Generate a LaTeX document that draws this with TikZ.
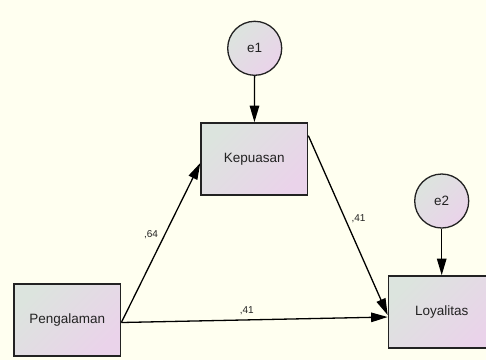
\documentclass[tikz,border=0pt]{standalone}
\usepackage{fontspec}
\setmainfont{Liberation Sans}
\usetikzlibrary{arrows.meta,calc}
\definecolor{bgc}{HTML}{FFFFF0}
\definecolor{cA}{HTML}{DCE4DE}
\definecolor{cB}{HTML}{EAD3EA}
\definecolor{edge}{HTML}{222222}
\tikzset{
  var/.style={draw=edge, line width=1.4pt, rectangle, minimum width=106.7pt, minimum height=72.3pt,
    inner sep=0pt, top color=cA, bottom color=cB, shading angle=45, font=\fontsize{13.5}{16}\selectfont, text=edge},
  err/.style={draw=edge, line width=1.3pt, circle, minimum size=54pt, inner sep=0pt,
    top color=cA, bottom color=cB, shading angle=45, font=\fontsize{13.5}{16}\selectfont, text=edge},
  path/.style={line width=1.3pt, draw=black, -{Triangle[length=16.5pt,width=9.5pt]}},
  coef/.style={font=\fontsize{10}{12}\selectfont, text=edge, inner sep=0pt}
}
\begin{document}
\begin{tikzpicture}[x=1pt,y=-1pt]
\useasboundingbox (0,0) rectangle (486,360);
\clip (0,0) rectangle (486,360);
\fill[bgc] (0,0) rectangle (486,360);
\node[err] (e1) at (254.7,48.3) {e1};
\node[err] (e2) at (441.7,201) {e2};
\node[var] (K) at (254.3,159) {Kepuasan};
\node[var] (P) at (67.3,320) {Pengalaman};
\node[var] (L) at (441.7,312) {Loyalitas};
\coordinate (Pout) at ($(P.east)+(0,2.5)$);
\coordinate (Kin) at ($(K.west)+(0,4)$);
\coordinate (Kout) at ($(K.north east)+(0,13.5)$);
\coordinate (Lin1) at ($(L.west)+(0,3)$);
\coordinate (Lin2) at ($(L.west)+(0,5)$);
\draw[path] (e1) -- (K);
\draw[path] (e2) -- (L);
\draw[path] (Pout) -- (Kin);
\draw[path] (Kout) -- (Lin1);
\draw[path] (Pout) -- (Lin2);
\node[coef] (c1) at (151,235) {,64};
\node[coef] (c2) at (358.5,218.5) {,41};
\node[coef] (c3) at (246.7,311) {,41};
\end{tikzpicture}
\end{document}
